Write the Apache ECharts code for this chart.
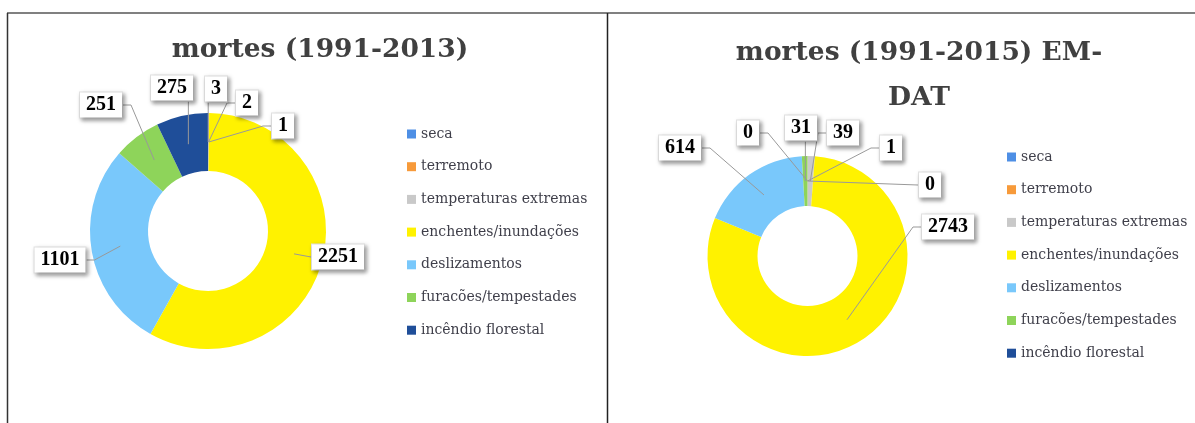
<!DOCTYPE html>
<html>
<head>
<meta charset="utf-8">
<script src="https://cdn.jsdelivr.net/npm/echarts@6/dist/echarts.min.js"></script>
<style>
html,body{margin:0;padding:0;background:#fff;}
#chart{width:1195px;height:423px;}
</style>
</head>
<body>
<div id="chart"></div>
<script>
// ---- data ----
const categories = ['seca','terremoto','temperaturas extremas','enchentes/inundações','deslizamentos','furacões/tempestades','incêndio florestal'];
const deaths1991_2013 = [3, 2, 1, 2251, 1101, 251, 275];
const deaths1991_2015 = [0, 1, 39, 2743, 614, 31, 0];
const titles = ['mortes (1991-2013)', 'mortes (1991-2015) EM-\nDAT'];
const colors = ['#4e8fe5','#f79a3a','#c9c9c9','#fff200','#79c8fb','#8ed45a','#1f4e99'];

// ---- layout (not data) ----
const pies = [
  {center:[208,231], radius:[60,118],
   labels:[[216,89],[247,103],[283,126],[338,257],[60,260],[101,105],[172,88]]},
  {center:[807.5,256], radius:[50,100],
   labels:[[930,185],[891,148],[843,133],[948,227],[680,148],[801,128],[748,133]]}
];
const datasets = [deaths1991_2013, deaths1991_2015];

const chart = echarts.init(document.getElementById('chart'), null, {renderer:'canvas'});

function makeLayout(pi){
  const P = pies[pi], vals = datasets[pi];
  const total = vals.reduce((a,b)=>a+b,0);
  return function(params){
    const i = params.dataIndex;
    let cum = 0; for (let k=0;k<i;k++) cum += vals[k];
    const midFrac = (cum + vals[i]/2)/total;
    const ang = midFrac*2*Math.PI;
    const rMid = (P.radius[0]+P.radius[1])/2;
    const sx = P.center[0] + rMid*Math.sin(ang);
    const sy = P.center[1] - rMid*Math.cos(ang);
    const [lx,ly] = P.labels[i];
    const r = params.labelRect || params.rect;
    const w = r.width, h = r.height;
    let pts;
    if (sx < lx - w/2) {
      const ex = lx - w/2, ey = ly;
      const mx = Math.abs(sy-ey) > 6 ? Math.max(sx, ex - 8) : ex;
      pts = [[sx,sy],[mx,ey],[ex,ey]];
    } else if (sx > lx + w/2) {
      const ex = lx + w/2, ey = ly;
      const mx = Math.abs(sy-ey) > 6 ? Math.min(sx, ex + 8) : ex;
      pts = [[sx,sy],[mx,ey],[ex,ey]];
    } else if (sy > ly) {
      pts = [[sx,sy],[sx,ly+h/2],[sx,ly+h/2]];
    } else {
      pts = [[sx,sy],[sx,ly-h/2],[sx,ly-h/2]];
    }
    return {x:lx, y:ly, align:'center', verticalAlign:'middle', hideOverlap:false,
            labelLinePoints:pts};
  };
}

// visible ring
function pieSeries(pi){
  const P = pies[pi];
  return {
    type:'pie', center:P.center, radius:P.radius,
    startAngle:90, clockwise:true, silent:true, z:2,
    data: categories.map((n,k)=>({name:n, value:datasets[pi][k]})),
    itemStyle:{borderWidth:0},
    label:{show:false}, labelLine:{show:false}
  };
}
// transparent overlay ring carrying the data labels and leader lines
function labelSeries(pi){
  const P = pies[pi];
  return {
    type:'pie', center:P.center, radius:P.radius,
    startAngle:90, clockwise:true, silent:true, z:5,
    avoidLabelOverlap:false,
    data: categories.map((n,k)=>({name:n, value:datasets[pi][k]})),
    itemStyle:{color:'rgba(0,0,0,0)', borderWidth:0},
    label:{
      show:true, position:'outside', formatter:'{c}',
      fontFamily:'Liberation Serif', fontWeight:'bold', fontSize:20, color:'#000',
      backgroundColor:'#fff', borderColor:'#e2e2e2', borderWidth:1,
      padding:[3,6,2,6],
      shadowColor:'rgba(0,0,0,0.35)', shadowBlur:4, shadowOffsetX:2, shadowOffsetY:2
    },
    labelLine:{show:true, showAbove:true, length:10, length2:10,
               lineStyle:{color:'#999', width:1, opacity:1}},
    labelLayout: makeLayout(pi)
  };
}

const legendBase = {
  orient:'vertical', icon:'rect', itemWidth:9, itemHeight:9, itemGap:18.7, padding:0,
  data:categories, selectedMode:false,
  textStyle:{fontFamily:'DejaVu Serif', fontSize:14, color:'#3f3f4a', lineHeight:14}
};

chart.setOption({
  animation:false,
  color:colors,
  title:[
    {text:titles[0], left:315, top:28, textAlign:'center',
     textStyle:{fontFamily:'DejaVu Serif', fontWeight:'bold', fontSize:26.5, color:'#404040', lineHeight:34}},
    {text:titles[1], left:914, top:26, textAlign:'center',
     textStyle:{fontFamily:'DejaVu Serif', fontWeight:'bold', fontSize:26.5, color:'#404040', lineHeight:45}}
  ],
  legend:[
    Object.assign({}, legendBase, {left:407, top:127}),
    Object.assign({}, legendBase, {left:1007, top:150})
  ],
  series:[pieSeries(0), pieSeries(1), labelSeries(0), labelSeries(1)],
  graphic:[
    {type:'line', shape:{x1:7, y1:13, x2:1195, y2:13}, style:{stroke:'#808080', lineWidth:2}},
    {type:'line', shape:{x1:7.5, y1:13, x2:7.5, y2:423}, style:{stroke:'#333', lineWidth:1.5}},
    {type:'line', shape:{x1:607.5, y1:13, x2:607.5, y2:423}, style:{stroke:'#222', lineWidth:1.5}}
  ]
});
</script>
</body>
</html>
